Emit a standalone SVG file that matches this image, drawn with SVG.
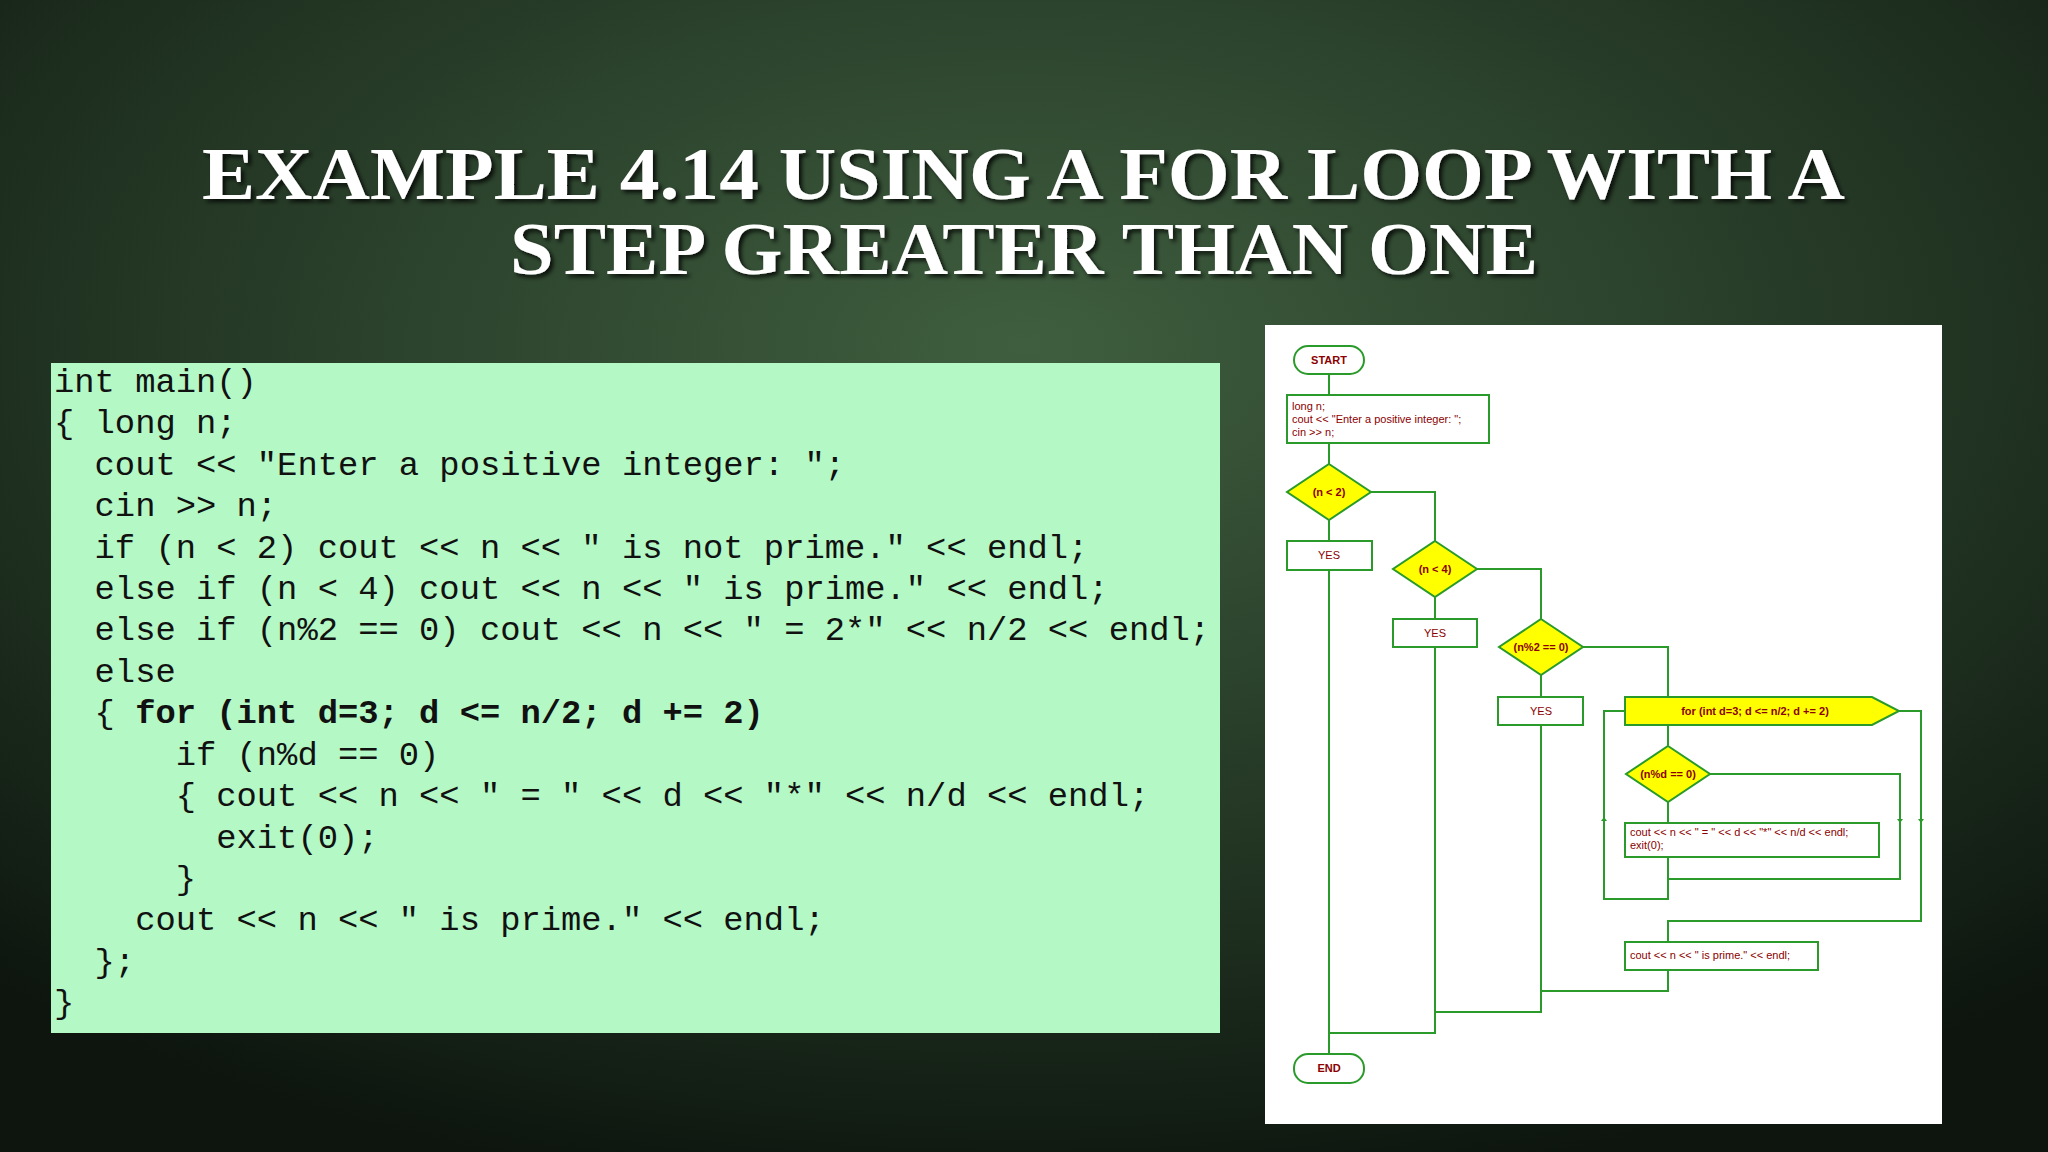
<svg xmlns="http://www.w3.org/2000/svg" width="2048" height="1152" viewBox="0 0 2048 1152">
<defs>
<radialGradient id="bg" cx="50%" cy="30%" r="75%">
<stop offset="0" stop-color="#3f5e3f"/><stop offset="0.6" stop-color="#223523"/><stop offset="1" stop-color="#0d150e"/>
</radialGradient>
<marker id="ar" markerWidth="4" markerHeight="6" refX="2" refY="3" orient="auto" markerUnits="userSpaceOnUse"><path d="M0,0 L4,3 L0,6 z" fill="#2a9a2a"/></marker>
<filter id="sh"><feDropShadow dx="3" dy="3" stdDeviation="2" flood-color="#000" flood-opacity="0.8"/></filter>
</defs>
<style>
.t{font-family:"Liberation Serif",serif;font-weight:bold;fill:#fff;font-size:74px}
.c{font-family:"Liberation Mono",monospace;font-size:33.8px;fill:#111;white-space:pre}
.s{fill:#fff;stroke:#2a9a2a;stroke-width:2}
.d{fill:#ffff00;stroke:#2a9a2a;stroke-width:2}
.l{fill:none;stroke:#2a9a2a;stroke-width:2}
.f{font-family:"Liberation Sans",Arial,sans-serif;fill:#8b0000;font-size:11px}
.fb{font-family:"Liberation Sans",Arial,sans-serif;fill:#8b0000;font-size:11px;font-weight:bold}
</style>
<rect width="2048" height="1152" fill="url(#bg)"/>
<g filter="url(#sh)">
<text class="t" x="202" y="199" textLength="1643" lengthAdjust="spacingAndGlyphs">EXAMPLE 4.14 USING A FOR LOOP WITH A</text>
<text class="t" x="510" y="274" textLength="1028" lengthAdjust="spacingAndGlyphs">STEP GREATER THAN ONE</text>
</g>
<g id="code">
<rect x="51" y="363" width="1169" height="670" fill="#b4f8c6"/>
<text class="c" x="54" y="392" xml:space="preserve">int main()</text>
<text class="c" x="54" y="433" xml:space="preserve">{ long n;</text>
<text class="c" x="54" y="475" xml:space="preserve">  cout &lt;&lt; "Enter a positive integer: ";</text>
<text class="c" x="54" y="516" xml:space="preserve">  cin &gt;&gt; n;</text>
<text class="c" x="54" y="558" xml:space="preserve">  if (n &lt; 2) cout &lt;&lt; n &lt;&lt; " is not prime." &lt;&lt; endl;</text>
<text class="c" x="54" y="599" xml:space="preserve">  else if (n &lt; 4) cout &lt;&lt; n &lt;&lt; " is prime." &lt;&lt; endl;</text>
<text class="c" x="54" y="640" xml:space="preserve">  else if (n%2 == 0) cout &lt;&lt; n &lt;&lt; " = 2*" &lt;&lt; n/2 &lt;&lt; endl;</text>
<text class="c" x="54" y="682" xml:space="preserve">  else</text>
<text class="c" x="54" y="723" xml:space="preserve">  { <tspan font-weight="bold">for (int d=3; d &lt;= n/2; d += 2)</tspan></text>
<text class="c" x="54" y="765" xml:space="preserve">      if (n%d == 0)</text>
<text class="c" x="54" y="806" xml:space="preserve">      { cout &lt;&lt; n &lt;&lt; " = " &lt;&lt; d &lt;&lt; "*" &lt;&lt; n/d &lt;&lt; endl;</text>
<text class="c" x="54" y="848" xml:space="preserve">        exit(0);</text>
<text class="c" x="54" y="889" xml:space="preserve">      }</text>
<text class="c" x="54" y="930" xml:space="preserve">    cout &lt;&lt; n &lt;&lt; " is prime." &lt;&lt; endl;</text>
<text class="c" x="54" y="972" xml:space="preserve">  };</text>
<text class="c" x="54" y="1013" xml:space="preserve">}</text>
</g>
<rect x="1265" y="325" width="677" height="799" fill="#fff"/>
<g id="connectors">
<path class="l" d="M1329,374 V395 M1329,443 V464 M1329,520 V541 M1329,570 V1054"/>
<path class="l" d="M1371,492 H1435 V541 M1435,597 V619 M1435,647 V1033 H1329"/>
<path class="l" d="M1477,569 H1541 V619 M1541,675 V697 M1541,725 V1012 H1435"/>
<path class="l" d="M1583,647 H1668 V697 M1668,725 V746 M1668,802 V823 M1668,857 V899 H1604 V711 H1625"/>
<path class="l" d="M1710,774 H1900 V879 H1668"/>
<path class="l" d="M1899,711 H1921 V921 H1668 V942 M1668,970 V991 H1541"/>
<path class="l" d="M1604,824 V819" marker-end="url(#ar)"/>
<path class="l" d="M1900,816 V821" marker-end="url(#ar)"/>
<path class="l" d="M1921,816 V821" marker-end="url(#ar)"/>
</g>
<g id="start"><rect class="s" x="1294" y="346" width="70" height="28" rx="14"/><text class="fb" x="1329" y="364" text-anchor="middle">START</text></g>
<g id="init"><rect class="s" x="1287" y="395" width="202" height="48"/>
<text class="f" x="1292" y="410">long n;</text><text class="f" x="1292" y="423">cout &lt;&lt; "Enter a positive integer: ";</text><text class="f" x="1292" y="436">cin &gt;&gt; n;</text></g>
<g id="d1"><polygon class="d" points="1329,464 1371,492 1329,520 1287,492"/><text class="fb" x="1329" y="496" text-anchor="middle">(n &lt; 2)</text></g>
<g id="y1"><rect class="s" x="1287" y="541" width="85" height="29"/><text class="f" x="1329" y="559" text-anchor="middle">YES</text></g>
<g id="d2"><polygon class="d" points="1435,541 1477,569 1435,597 1393,569"/><text class="fb" x="1435" y="573" text-anchor="middle">(n &lt; 4)</text></g>
<g id="y2"><rect class="s" x="1393" y="619" width="84" height="28"/><text class="f" x="1435" y="637" text-anchor="middle">YES</text></g>
<g id="d3"><polygon class="d" points="1541,619 1583,647 1541,675 1499,647"/><text class="fb" x="1541" y="651" text-anchor="middle">(n%2 == 0)</text></g>
<g id="y3"><rect class="s" x="1498" y="697" width="85" height="28"/><text class="f" x="1541" y="715" text-anchor="middle">YES</text></g>
<g id="for"><polygon class="d" points="1625,697 1872,697 1899,711 1872,725 1625,725"/><text class="fb" x="1755" y="715" text-anchor="middle">for (int d=3; d &lt;= n/2; d += 2)</text></g>
<g id="d4"><polygon class="d" points="1668,746 1710,774 1668,802 1626,774"/><text class="fb" x="1668" y="778" text-anchor="middle">(n%d == 0)</text></g>
<g id="out1"><rect class="s" x="1625" y="823" width="254" height="34"/>
<text class="f" x="1630" y="836">cout &lt;&lt; n &lt;&lt; " = " &lt;&lt; d &lt;&lt; "*" &lt;&lt; n/d &lt;&lt; endl;</text><text class="f" x="1630" y="849">exit(0);</text></g>
<g id="out2"><rect class="s" x="1625" y="942" width="193" height="28"/><text class="f" x="1630" y="959">cout &lt;&lt; n &lt;&lt; " is prime." &lt;&lt; endl;</text></g>
<g id="end"><rect class="s" x="1294" y="1054" width="70" height="29" rx="14"/><text class="fb" x="1329" y="1072" text-anchor="middle">END</text></g>
</svg>
